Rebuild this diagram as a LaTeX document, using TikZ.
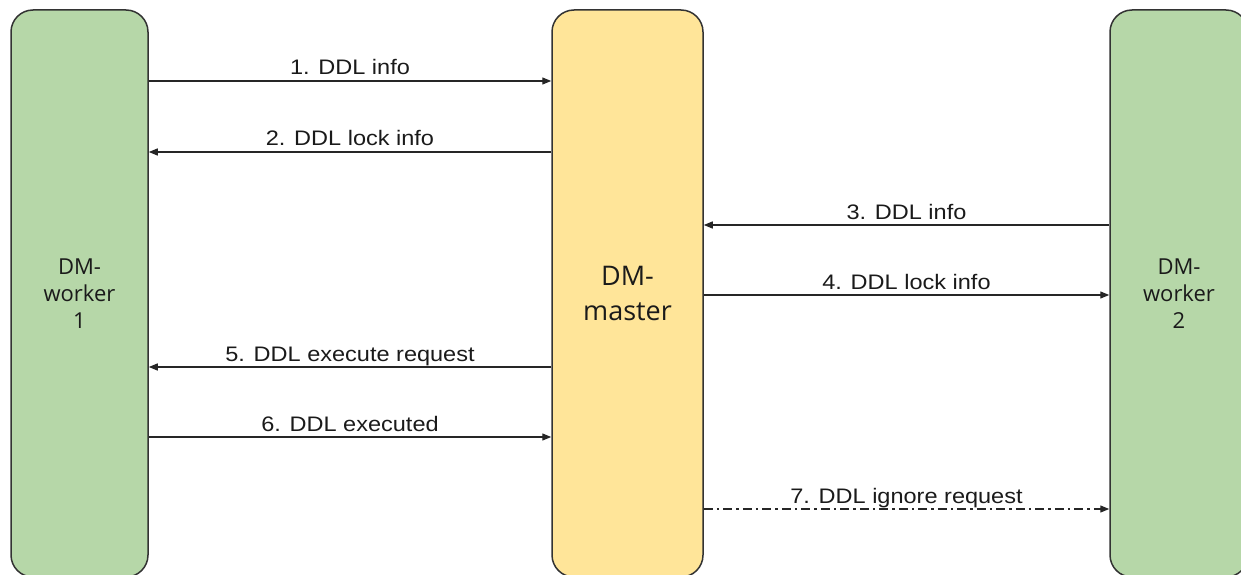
\documentclass[tikz,border=0pt]{standalone}
\usepackage{fontspec}
\setmainfont{Liberation Sans}
\newfontfamily\lblfont[FakeStretch=1.12]{Liberation Sans}
\newfontfamily\boxfont{Open Sans}
\usetikzlibrary{arrows.meta}
\definecolor{wgreen}{HTML}{B6D7A8}
\definecolor{myellow}{HTML}{FFE599}
\definecolor{edge}{HTML}{333333}
\definecolor{txt}{HTML}{1A1A1A}
\tikzset{
  box/.style={draw=edge, line width=1.5pt, rounded corners=22pt, inner sep=0pt, align=center, text=txt},
  worker/.style={box, fill=wgreen, font=\boxfont\fontsize{22}{27}\selectfont},
  master/.style={box, fill=myellow, font=\boxfont\fontsize{27}{35}\selectfont},
  msg/.style={draw=black!85, line width=1.3pt, -{Triangle[length=9pt,width=7pt]}},
  dashmsg/.style={msg, dash pattern=on 9pt off 4pt on 2.5pt off 4pt},
  lbl/.style={font=\lblfont\fontsize{21}{24}\selectfont, text=txt, anchor=base, yshift=6pt, inner sep=0pt}
}
\begin{document}
\begin{tikzpicture}[x=1pt,y=-1pt]
\path[use as bounding box] (0,0) rectangle (1241,575);
\node[worker, minimum width=137pt, minimum height=567pt] (w1) at (79.5,293.5) {DM-\\worker\\1};
\node[master, minimum width=151pt, minimum height=567pt] (m) at (627.5,293.5) {DM-\\master};
\node[worker, minimum width=138pt, minimum height=567pt] (w2) at (1179,293.5) {DM-\\worker\\2};
\draw[msg] (w1.east |- 0,81) -- node[lbl] {1. DDL info} (m.west |- 0,81);
\draw[msg] (m.west |- 0,152) -- node[lbl] {2. DDL lock info} (w1.east |- 0,152);
\draw[msg] (w2.west |- 0,225) -- node[lbl] {3. DDL info} (m.east |- 0,225);
\draw[msg] (m.east |- 0,295) -- node[lbl] {4. DDL lock info} (w2.west |- 0,295);
\draw[msg] (m.west |- 0,367) -- node[lbl] {5. DDL execute request} (w1.east |- 0,367);
\draw[msg] (w1.east |- 0,437) -- node[lbl] {6. DDL executed} (m.west |- 0,437);
\draw[dashmsg] (m.east |- 0,509) -- node[lbl] {7. DDL ignore request} (w2.west |- 0,509);
\end{tikzpicture}
\end{document}
